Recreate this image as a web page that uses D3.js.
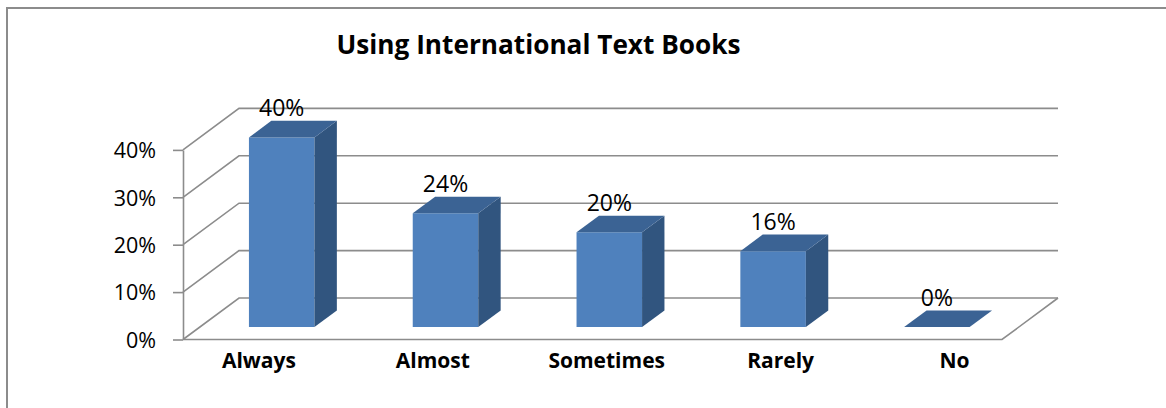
<!DOCTYPE html>
<html>
<head>
<meta charset="utf-8">
<script src="https://cdn.jsdelivr.net/npm/d3@7"></script>
<style>
  html, body { margin: 0; padding: 0; background: #fff; }
  svg { display: block; }
  text { font-family: "Open Sans", Lato, "Noto Sans", sans-serif; fill: #000; }
</style>
</head>
<body>
<svg id="chart" width="1166" height="408"></svg>
<script>
// Data
const title = "Using International Text Books";
const categories = ["Always", "Almost", "Sometimes", "Rarely", "No"];
const values = [0.40, 0.24, 0.20, 0.16, 0.00];
const yTicks = [0, 0.10, 0.20, 0.30, 0.40];

// Layout of the 3-D box (front floor edge, depth vector of the box)
const W = 1166, H = 408;
const floorLeft = 183, floorRight = 1002, floorY = 339.5;
const depthX = 56, depthY = 41.5;
const topY = 149.9;
const font = "'Open Sans', Lato, sans-serif";

const svg = d3.select("#chart");

// Chart frame
svg.append("rect")
  .attr("x", 7).attr("y", 8)
  .attr("width", W + 20).attr("height", H + 20)
  .attr("fill", "#fff")
  .attr("stroke", "#8c8c8c").attr("stroke-width", 2);

const x = d3.scaleBand().domain(categories).range([floorLeft, floorRight]).padding(0);
const y = d3.scaleLinear().domain([0, 0.40]).range([floorY, topY]);
const bw = x.bandwidth();

// project a point at front x, value v, depth d (0 = front, 1 = back wall)
const P = (px, v, d) => [px + d * depthX, y(v) - d * depthY];

const gridColor = "#8c8c8c";
const line = d3.line();

// Side wall + back wall gridlines
const grid = svg.append("g").attr("fill", "none").attr("stroke", gridColor).attr("stroke-width", 1.6);
grid.selectAll("path.grid")
  .data(yTicks)
  .join("path")
  .attr("class", "grid")
  .attr("d", t => line([P(floorLeft, t, 0), P(floorLeft, t, 1), P(floorRight, t, 1)]));

// Floor front and right edges
grid.append("path")
  .attr("d", line([P(floorLeft, 0, 0), P(floorRight, 0, 0), P(floorRight, 0, 1)]));

// Value axis on the front-left edge
const yAxis = d3.axisLeft(y)
  .tickValues(yTicks)
  .tickFormat(d3.format(".0%"))
  .tickSize(10)
  .tickSizeOuter(0)
  .tickPadding(17);

const ag = svg.append("g")
  .attr("transform", `translate(${floorLeft},0)`)
  .call(yAxis);
ag.select(".domain").attr("stroke", gridColor).attr("stroke-width", 1.6);
ag.selectAll(".tick line").attr("stroke", gridColor).attr("stroke-width", 1.6);
ag.selectAll(".tick text")
  .attr("font-family", font)
  .attr("font-size", 21.5)
  .attr("fill", "#000")
  .attr("dy", "0.36em");

// Bars: front, side and top faces
const d0 = 0.3, d1 = 0.7;          // depth span of each column
const colFront = "#4f81bd", colSide = "#31557f", colTop = "#3b6394";
const poly = pts => "M" + pts.map(p => p.join(",")).join("L") + "Z";

const bars = svg.append("g").selectAll("g.bar")
  .data(categories.map((c, i) => ({ c, v: values[i] })))
  .join("g").attr("class", "bar");

bars.each(function (d) {
  const g = d3.select(this);
  const xa = x(d.c) + 0.3 * bw, xb = xa + 0.4 * bw;
  if (d.v > 0) {
    g.append("path").attr("fill", colFront)
      .attr("d", poly([P(xa, 0, d0), P(xa, d.v, d0), P(xb, d.v, d0), P(xb, 0, d0)]));
    g.append("path").attr("fill", colSide)
      .attr("d", poly([P(xb, 0, d0), P(xb, d.v, d0), P(xb, d.v, d1), P(xb, 0, d1)]));
  }
  g.append("path").attr("fill", colTop)
    .attr("d", poly([P(xa, d.v, d0), P(xb, d.v, d0), P(xb, d.v, d1), P(xa, d.v, d1)]));

  // value label, centred over the front face, above the back top edge
  const [lx] = P((xa + xb) / 2, d.v, d0);
  const [, ly] = P(xa, d.v, d1);
  g.append("text")
    .attr("x", lx).attr("y", ly - 4.5)
    .attr("text-anchor", "middle")
    .attr("font-size", 23)
    .text(d3.format(".0%")(d.v));
});

// Category labels spread along the front of the floor
const xl = d3.scalePoint().domain(categories)
  .range([floorLeft + bw / 2 - 6, floorRight - 0.29 * bw]);
svg.append("g").selectAll("text")
  .data(categories)
  .join("text")
  .attr("x", c => xl(c))
  .attr("y", 368)
  .attr("text-anchor", "middle")
  .attr("font-weight", 700)
  .attr("font-size", 21)
  .text(c => c);

// Title
svg.append("text")
  .attr("x", 538.5).attr("y", 53.5)
  .attr("text-anchor", "middle")
  .attr("font-weight", 700)
  .attr("font-size", 26.2)
  .text(title);
</script>
</body>
</html>
